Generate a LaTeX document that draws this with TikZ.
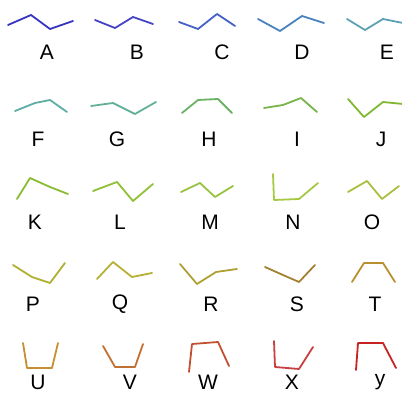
\documentclass[tikz,border=0pt]{standalone}
\usepackage{fontspec}
\setmainfont{Liberation Sans}
\usepackage{xcolor}
\definecolor{cA}{HTML}{3535C0}
\definecolor{cB}{HTML}{4444C4}
\definecolor{cC}{HTML}{4560C8}
\definecolor{cD}{HTML}{4A82BE}
\definecolor{cE}{HTML}{5CA2B2}
\definecolor{cF}{HTML}{5EAEA6}
\definecolor{cG}{HTML}{62B09A}
\definecolor{cH}{HTML}{6AB264}
\definecolor{cI}{HTML}{78B44A}
\definecolor{cJ}{HTML}{80B832}
\definecolor{cK}{HTML}{8ABC32}
\definecolor{cL}{HTML}{90C034}
\definecolor{cM}{HTML}{98C240}
\definecolor{cN}{HTML}{A6C842}
\definecolor{cO}{HTML}{A8C03E}
\definecolor{cP}{HTML}{B0B032}
\definecolor{cQ}{HTML}{B6B034}
\definecolor{cR}{HTML}{B0A032}
\definecolor{cS}{HTML}{A28232}
\definecolor{cT}{HTML}{B89032}
\definecolor{cU}{HTML}{C88E32}
\definecolor{cV}{HTML}{C07032}
\definecolor{cW}{HTML}{C25030}
\definecolor{cX}{HTML}{C84040}
\definecolor{cY}{HTML}{C82222}
\tikzset{
  stroke/.style={line width=1.8pt, line join=round, line cap=round},
  lbl/.style={inner sep=0pt, font=\fontsize{21}{21}\selectfont}
}
\begin{document}
\begin{tikzpicture}[x=1pt,y=-1pt]
\useasboundingbox (0,0) rectangle (402,395);
% row 1
\draw[stroke,cA] (8,25) -- (31,15) -- (50,29) -- (73,21);
\draw[stroke,cB] (95,20) -- (115,28) -- (133,17) -- (153,24);
\draw[stroke,cC] (179,22) -- (198,29) -- (217,14) -- (235,26);
\draw[stroke,cD] (258,19) -- (280,31) -- (302,16) -- (324,23);
\draw[stroke,cE] (347,19) -- (365,30) -- (383,19) -- (403,23);
\node[lbl] (A) at (47,52.5) {A};
\node[lbl] (B) at (137,52.5) {B};
\node[lbl] (C) at (222,52.5) {C};
\node[lbl] (D) at (302,52.5) {D};
\node[lbl] (E) at (387,52.5) {E};
% row 2
\draw[stroke,cF] (15,111) -- (35,103) -- (50,100) -- (67,112);
\draw[stroke,cG] (91,106) -- (113,103) -- (135,114) -- (156,102);
\draw[stroke,cH] (182,113) -- (198,100) -- (218,99) -- (232,113);
\draw[stroke,cI] (264,108) -- (283,105) -- (301,98) -- (317,112);
\draw[stroke,cJ] (348,99) -- (364,117) -- (383,102) -- (403,104);
\node[lbl] (F) at (38,139) {F};
\node[lbl] (G) at (117,139) {G};
\node[lbl] (H) at (209,139) {H};
\node[lbl] (I) at (297,139) {I};
\node[lbl] (J) at (381,139) {J};
% row 3
\draw[stroke,cK] (17,199) -- (30,178) -- (50,187) -- (68,194);
\draw[stroke,cL] (93,191) -- (117,182) -- (133,201) -- (153,184);
\draw[stroke,cM] (181,192) -- (200,183) -- (215,197) -- (233,186);
\draw[stroke,cN] (273,174) -- (274,200) -- (299,199) -- (318,183);
\draw[stroke,cO] (348,192) -- (367,181) -- (382,199) -- (399,186);
\node[lbl] (K) at (35,222) {K};
\node[lbl] (L) at (120,222) {L};
\node[lbl] (M) at (210,222) {M};
\node[lbl] (N) at (293,222) {N};
\node[lbl] (O) at (372,222) {O};
% row 4
\draw[stroke,cP] (13,265) -- (32,277) -- (50,283) -- (65,263);
\draw[stroke,cQ] (97,279) -- (113,262) -- (132,277) -- (152,273);
\draw[stroke,cR] (180,264) -- (197,284) -- (216,272) -- (237,269);
\draw[stroke,cS] (265,267) -- (283,275) -- (299,282) -- (315,265);
\draw[stroke,cT] (352,282) -- (364,263) -- (383,263) -- (395,282);
\node[lbl] (P) at (33,304) {P};
\node[lbl] (Q) at (120,304) {Q};
\node[lbl] (R) at (211,304) {R};
\node[lbl] (S) at (297,304) {S};
\node[lbl] (T) at (375,304) {T};
% row 5
\draw[stroke,cU] (23,343) -- (27,368) -- (52,368) -- (58,343);
\draw[stroke,cV] (103,346) -- (115,367) -- (135,367) -- (143,344);
\draw[stroke,cW] (189,372) -- (192,344) -- (218,342) -- (229,366);
\draw[stroke,cX] (274,341) -- (275,367) -- (299,369) -- (313,347);
\draw[stroke,cY] (356,370) -- (358,343) -- (383,343) -- (396,368);
\node[lbl] (U) at (38,382) {U};
\node[lbl] (V) at (130,382) {V};
\node[lbl] (W) at (208,382) {W};
\node[lbl] (X) at (292,382) {X};
\node[lbl,anchor=base] (y) at (380,386) {y};
\end{tikzpicture}
\end{document}
